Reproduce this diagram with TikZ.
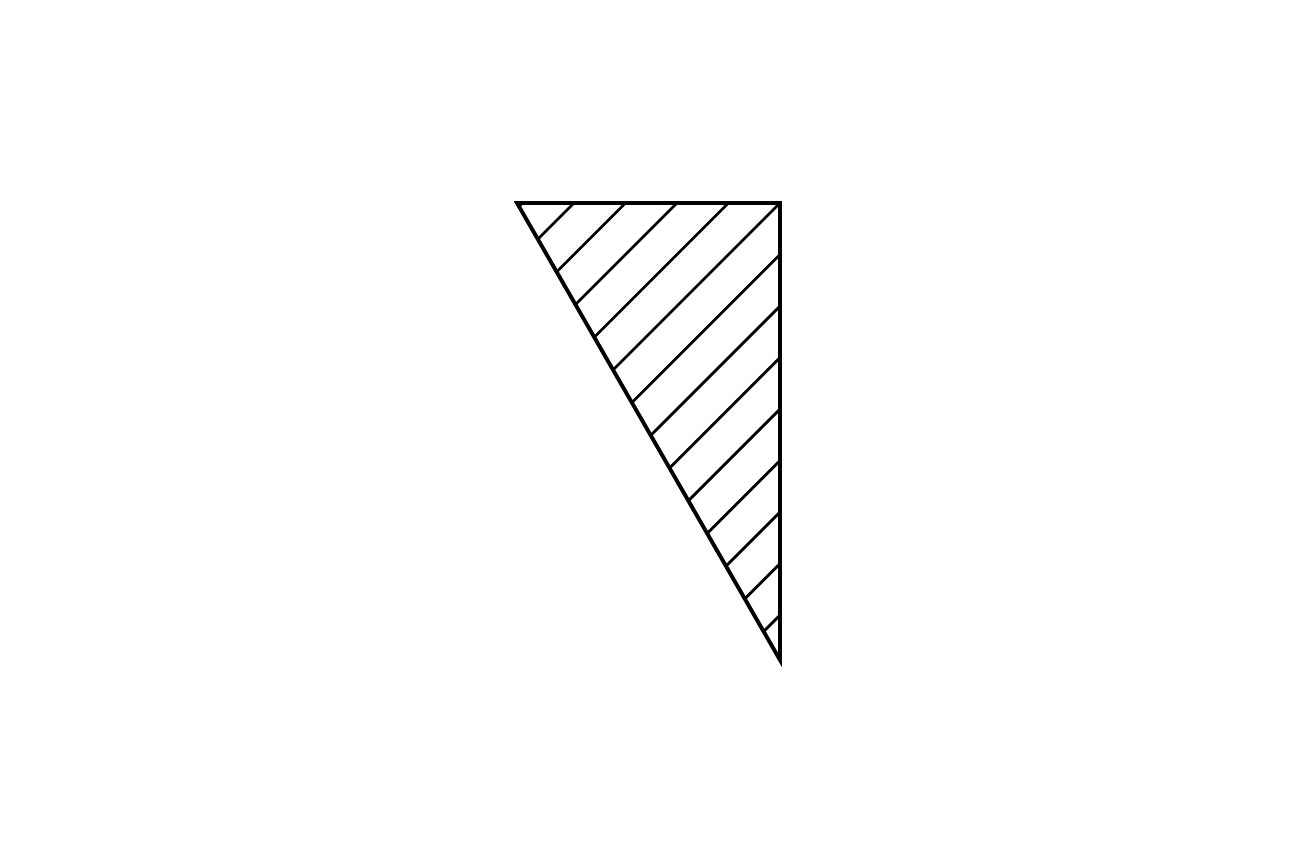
\documentclass[tikz,border=0pt]{standalone}
\usepackage{tikz}
\usetikzlibrary{calc}

\begin{document}
\begin{tikzpicture}[line join=miter]

      \useasboundingbox (0,0) rectangle (13,8.66);

      \path (5.17,6.63) coordinate (A);
      \path (7.80,6.63) coordinate (B);
      \path (7.80,2.06) coordinate (C);

      \begin{scope}
        \clip (A) -- (B) -- (C) -- cycle;
        \foreach \k in {-6,...,9}
          \draw[line width=.8pt] ($(B)+(0.515*\k,0)+(-5,-5)$) -- ($(B)+(0.515*\k,0)+(5,5)$);
      \end{scope}

      \draw[line width=1.1pt] (A) -- (B) -- (C) -- cycle;

    \end{tikzpicture}
\end{document}
